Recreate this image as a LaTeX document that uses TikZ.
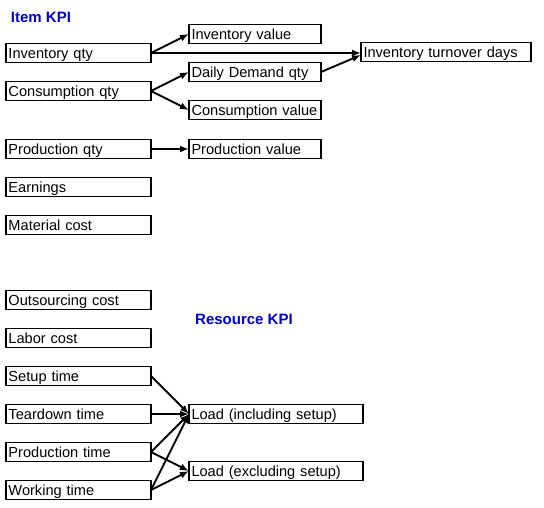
\documentclass[tikz,border=0pt]{standalone}
\usepackage{fontspec}
\setmainfont{Liberation Sans}
\usetikzlibrary{positioning,arrows.meta}
\definecolor{kpiblue}{RGB}{0,0,204}

\begin{document}
\begin{tikzpicture}[
    x=1pt, y=-1pt,
    font=\fontsize{14.6}{16}\selectfont,
    node distance=19pt and 38pt,
    srcbox/.style   = {rectangle, draw, line width=1.9pt, outer sep=0pt,
                       minimum height=19pt, inner xsep=2.5pt, inner ysep=0pt,
                       text height=11pt, text depth=0pt, align=left},
    basebox/.style  = {srcbox, minimum width=145pt, text width=140pt},
    derbox/.style   = {srcbox, minimum width=132pt, text width=127pt},
    widebox/.style  = {srcbox, minimum width=174pt, text width=169pt},
    title/.style    = {font=\fontsize{15}{17}\selectfont\bfseries,
                       text=kpiblue, inner sep=0pt},
    flow/.style     = {-{Latex[length=9pt,width=7pt]}, line width=1.9pt}
]
\useasboundingbox (0,0) rectangle (544,508);

% --- Item KPI ----------------------------------------------------------------
\node[title]                             (itemkpi)  at (41,17) {Item KPI};

\node[basebox]                           (invqty)   at (78.5,53) {Inventory qty};
\node[basebox, below=of invqty]          (consqty)  {Consumption qty};
\node[basebox, below=39pt of consqty]    (prodqty)  {Production qty};
\node[basebox, below=of prodqty]         (earn)     {Earnings};
\node[basebox, below=of earn]            (matcost)  {Material cost};

\node[derbox]                            (invval)   at (255,34) {Inventory value};
\node[derbox,  below=of invval]          (dailydem) {Daily Demand qty};
\node[derbox,  below=of dailydem]        (consval)  {Consumption value};
\node[derbox,  right=of prodqty]         (prodval)  {Production value};

\node[srcbox, minimum width=170pt, text width=165pt]
                                         (turnover) at (446,52) {Inventory turnover days};

% --- Resource KPI ------------------------------------------------------------
\node[basebox, below=56pt of matcost]    (outcost)  {Outsourcing cost};
\node[basebox, below=of outcost]         (labcost)  {Labor cost};
\node[basebox, below=of labcost]         (setup)    {Setup time};
\node[basebox, below=of setup]           (teardown) {Teardown time};
\node[basebox, below=of teardown]        (prodtime) {Production time};
\node[basebox, below=of prodtime]        (worktime) {Working time};

\node[title]                             (reskpi)   at (244,319) {Resource KPI};

\node[widebox, right=of teardown]        (loadinc)  {Load (including setup)};
\node[widebox, below=38pt of loadinc]    (loadexc)  {Load (excluding setup)};

% --- Flows -------------------------------------------------------------------
\draw[flow] (invqty.east)   -- (invval.west);
\draw[flow] (invqty.east)   -- (invqty.east -| turnover.west);
\draw[flow] (dailydem.east) -- ([yshift=-3pt]turnover.west);
\draw[flow] (consqty.east)  -- (dailydem.west);
\draw[flow] (consqty.east)  -- (consval.west);
\draw[flow] (prodqty.east)  -- (prodval.west);

\draw[flow] (setup.east)    -- (loadinc.west);
\draw[flow] (teardown.east) -- (loadinc.west);
\draw[flow] (prodtime.east) -- (loadinc.west);
\draw[flow] (prodtime.east) -- (loadexc.west);
\draw[flow] (worktime.east) -- (loadinc.west);
\draw[flow] (worktime.east) -- (loadexc.west);

\end{tikzpicture}
\end{document}
